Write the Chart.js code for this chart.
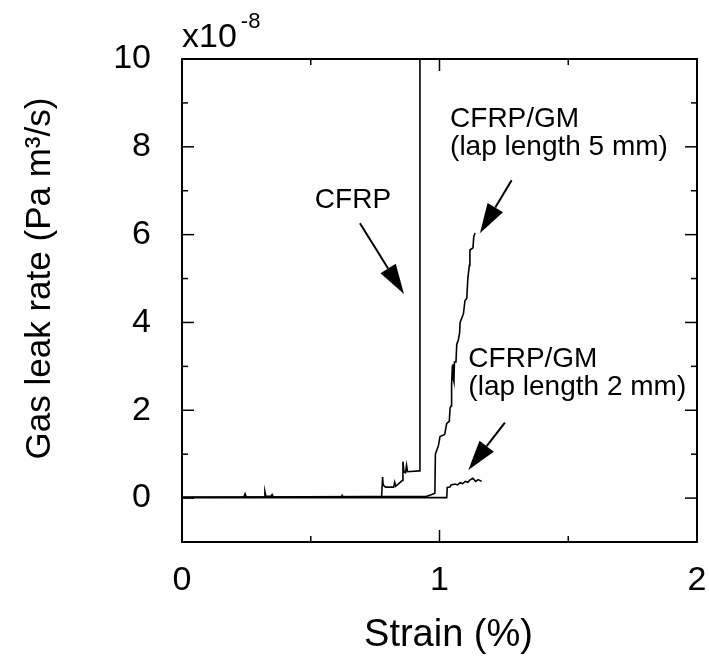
<!DOCTYPE html>
<html>
<head>
<meta charset="utf-8">
<script src="https://cdn.jsdelivr.net/npm/chart.js@4.4.0/dist/chart.umd.min.js"></script>
<style>
html, body { margin: 0; padding: 0; background: #fff; }
</style>
</head>
<body>
<canvas id="myChart" width="709" height="667"></canvas>
<script>
// strain (%) and gas leak rate (x1e-8 Pa m3/s)
const strainCFRP = [0, 0.24, 0.245, 0.25, 0.32, 0.322, 0.326, 0.345, 0.35, 0.355, 0.62, 0.622, 0.626, 0.775, 0.779, 0.781, 0.79, 0.822, 0.826, 0.83, 0.855, 0.858, 0.862, 0.868, 0.872, 0.876, 0.92, 0.924, 0.924]
const rateCFRP   = [0.02, 0.02, 0.1, 0.02, 0.02, 0.15, 0.04, 0.04, 0.08, 0.02, 0.02, 0.06, 0.02, 0.02, 0.48, 0.3, 0.25, 0.25, 0.36, 0.27, 0.4, 0.83, 0.6, 0.58, 0.75, 0.6, 0.62, 0.62, 11]

const strainLap5 = [0, 0.95, 0.97, 0.982, 0.984, 0.996, 1.002, 1.02, 1.028, 1.038, 1.041, 1.045, 1.047, 1.05, 1.052, 1.054, 1.056, 1.058, 1.064, 1.067, 1.073, 1.078, 1.08, 1.093, 1.099, 1.106, 1.11, 1.116, 1.118, 1.13, 1.133, 1.138]
const rateLap5   = [0.02, 0.04, 0.08, 0.11, 1.0, 1.2, 1.4, 1.45, 1.7, 1.75, 2.05, 2.1, 2.6, 3.0, 3.05, 2.7, 2.65, 3.1, 3.1, 3.5, 3.6, 3.75, 4.0, 4.2, 4.5, 4.55, 5.0, 5.3, 5.65, 5.7, 5.95, 6.04]

const strainLap2 = [0, 1.028, 1.03, 1.04, 1.045, 1.06, 1.07, 1.08, 1.09, 1.1, 1.11, 1.12, 1.13, 1.14, 1.15, 1.164]
const rateLap2   = [0.01, 0.01, 0.24, 0.25, 0.3, 0.32, 0.3, 0.35, 0.33, 0.38, 0.36, 0.42, 0.45, 0.38, 0.42, 0.38]

// annotations in data units
const noteTexts = [['CFRP'], ['CFRP/GM', '(lap length 5 mm)'], ['CFRP/GM', '(lap length 2 mm)']]
const noteAt = [[0.664, 6.6], [1.041, 8.45], [1.112, 2.99]]
const noteAlign = ['center', 'left', 'left']
const arrowFrom = [[0.691, 6.26], [1.280, 7.24], [1.254, 1.72]]
const arrowTo = [[0.862, 4.65], [1.157, 6.03], [1.112, 0.64]]

const FONT = '"Liberation Sans", Arial, sans-serif'

let toPoints = (xs, ys) => xs.map((x, i) => ({x: x, y: ys[i]}))

let line = (ctx, x1, y1, x2, y2) => {
    ctx.beginPath(); ctx.moveTo(x1, y1); ctx.lineTo(x2, y2); ctx.stroke()
}

let arrow = (ctx, x1, y1, x2, y2) => {
    const a = Math.atan2(y2 - y1, x2 - x1)
    const hl = 30, hw = 9
    const bx = x2 - hl * Math.cos(a), by = y2 - hl * Math.sin(a)
    ctx.lineWidth = 2
    line(ctx, x1, y1, bx, by)
    ctx.beginPath()
    ctx.moveTo(x2, y2)
    ctx.lineTo(bx + hw * Math.sin(a), by - hw * Math.cos(a))
    ctx.lineTo(bx - hw * Math.sin(a), by + hw * Math.cos(a))
    ctx.closePath()
    ctx.fill()
}

const framePlugin = {
    id: 'frame',
    afterDraw(chart) {
        const ctx = chart.ctx
        const {left, right, top, bottom} = chart.chartArea
        const xs = chart.scales.x, ys = chart.scales.y
        ctx.save()
        ctx.strokeStyle = '#000'
        ctx.fillStyle = '#000'
        ctx.lineWidth = 2
        ctx.strokeRect(left, top, right - left, bottom - top)
        ctx.lineWidth = 1.5
        xs.ticks.forEach(t => {
            const px = xs.getPixelForValue(t.value)
            const len = Number.isInteger(t.value) ? 12 : 6
            line(ctx, px, bottom, px, bottom - len)
            line(ctx, px, top, px, top + len)
        })
        ys.ticks.forEach(t => {
            const py = ys.getPixelForValue(t.value)
            const len = t.value % 2 === 0 ? 12 : 6
            line(ctx, left, py, left + len, py)
            line(ctx, right, py, right - len, py)
        })

        // exponent
        ctx.textBaseline = 'alphabetic'
        ctx.textAlign = 'left'
        ctx.font = '34px ' + FONT
        ctx.fillText('x10', left, top - 12)
        const w = ctx.measureText('x10').width
        ctx.font = '22px ' + FONT
        ctx.fillText('-8', left + w + 4, top - 31)

        // axis titles
        ctx.font = '38px ' + FONT
        ctx.textAlign = 'center'
        ctx.fillText('Strain (%)', (left + right) / 2 + 9, 646)
        ctx.font = '35px ' + FONT
        ctx.save()
        ctx.translate(50, (top + bottom) / 2 - 22)
        ctx.rotate(-Math.PI / 2)
        ctx.fillText('Gas leak rate (Pa m³/s)', 0, 0)
        ctx.restore()

        // annotations
        ctx.font = '28px ' + FONT
        noteTexts.forEach((lines, i) => {
            ctx.textAlign = noteAlign[i]
            const px = xs.getPixelForValue(noteAt[i][0])
            const py = ys.getPixelForValue(noteAt[i][1])
            lines.forEach((s, j) => ctx.fillText(s, px, py + j * 28))
        })
        arrowFrom.forEach((f, i) => {
            arrow(ctx, xs.getPixelForValue(f[0]), ys.getPixelForValue(f[1]),
                xs.getPixelForValue(arrowTo[i][0]), ys.getPixelForValue(arrowTo[i][1]))
        })
        ctx.restore()
    }
}

const lineStyle = {showLine: true, pointRadius: 0, borderColor: '#000', borderWidth: 1.6, fill: false}

let chart = new Chart('myChart', {
    type: 'scatter',
    data: {
        datasets: [
            Object.assign({label: 'CFRP', data: toPoints(strainCFRP, rateCFRP)}, lineStyle),
            Object.assign({label: 'CFRP/GM (lap length 5 mm)', data: toPoints(strainLap5, rateLap5)}, lineStyle),
            Object.assign({label: 'CFRP/GM (lap length 2 mm)', data: toPoints(strainLap2, rateLap2)}, lineStyle)
        ]
    },
    plugins: [framePlugin],
    options: {
        responsive: false,
        animation: false,
        layout: {padding: {top: 59, right: 12, left: 0, bottom: 0}},
        plugins: {legend: {display: false}, tooltip: {enabled: false}},
        scales: {
            x: {
                type: 'linear', min: 0, max: 2,
                afterFit: s => { s.height = 125; s.paddingLeft = 0; s.paddingRight = 0 },
                grid: {display: false, drawTicks: false},
                border: {display: false},
                ticks: {
                    stepSize: 0.5, padding: 18, color: '#000', maxRotation: 0,
                    font: {family: FONT, size: 34},
                    callback: v => Number.isInteger(v) ? String(v) : ''
                }
            },
            y: {
                type: 'linear', min: -1, max: 10,
                afterFit: s => { s.width = 182; s.paddingTop = 0; s.paddingBottom = 0 },
                grid: {display: false, drawTicks: false},
                border: {display: false},
                ticks: {
                    stepSize: 1, padding: 31, color: '#000',
                    font: {family: FONT, size: 34},
                    callback: v => v % 2 === 0 ? String(v) : ''
                }
            }
        }
    }
})
</script>
</body>
</html>
